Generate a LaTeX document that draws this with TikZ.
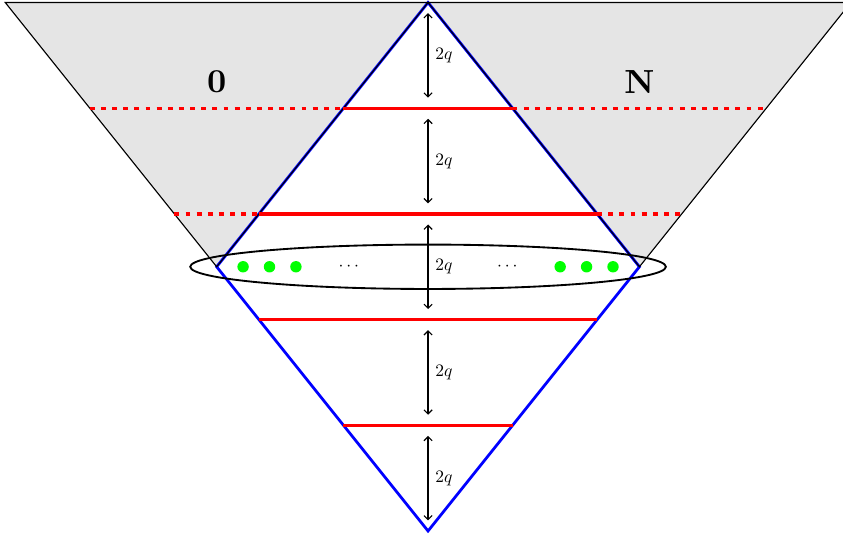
\documentclass[tikz,border=0pt]{standalone}
\usetikzlibrary{arrows.meta,shapes.geometric}
\begin{document}
\begin{tikzpicture}[
  thinline/.style={line width=0.3pt,black},
  redsolid/.style={red,line width=0.85pt},
  reddash/.style={red,line width=0.85pt,dash pattern=on 1.3pt off 1.7pt},
  bluedge/.style={blue,line width=0.75pt,line join=miter},
  gaparrow/.style={line width=0.3pt,{Straight Barb[length=1.1pt,width=2.2pt]}-{Straight Barb[length=1.1pt,width=2.2pt]}},
  glab/.style={anchor=west,inner sep=0pt,font=\fontsize{10}{12}\selectfont,scale=0.47,transform shape},
  gdot/.style={circle,fill=green,inner sep=0pt,minimum size=0.108cm},
  bigl/.style={inner sep=0pt,font=\fontsize{10}{12}\selectfont\bfseries,scale=0.9,transform shape},
  cdotl/.style={inner sep=0pt,font=\fontsize{10}{12}\selectfont,scale=0.47,transform shape},
  ring/.style={draw=black,line width=0.5pt}
]
\useasboundingbox (-4.05,-0.057) rectangle (3.926,5.024);
\clip (-4.05,-0.057) rectangle (3.926,5.024);
% corners
\coordinate (T) at (0,5);
\coordinate (B) at (0,0);
\coordinate (L) at (-2,2.5);
\coordinate (R) at (2,2.5);
\coordinate (TL) at (-4,5);
\coordinate (TR) at (4,5);
% gray triangles
\fill[gray!20] (TL) -- (T) -- (L) -- cycle;
\fill[gray!20] (T) -- (TR) -- (R) -- cycle;
% diamond
\draw[bluedge] (T) -- (L) -- (B) -- (R) -- cycle;
\draw[thinline] (TL) -- (T) -- (L) -- cycle;
\draw[thinline] (T) -- (TR) -- (R) -- cycle;
% level coordinates
\coordinate (a1) at (-3.2,4); \coordinate (a2) at (-0.8,4);
\coordinate (a3) at (0.8,4);  \coordinate (a4) at (3.2,4);
\coordinate (b1) at (-2.4,3); \coordinate (b2) at (-1.6,3);
\coordinate (b3) at (1.6,3);  \coordinate (b4) at (2.4,3);
\coordinate (c1) at (-1.6,2); \coordinate (c2) at (1.6,2);
\coordinate (d1) at (-0.8,1); \coordinate (d2) at (0.8,1);
% red lines
\draw[reddash] (a1) -- (a2);
\draw[reddash] (a3) -- (a4);
\draw[reddash] (b1) -- (b2);
\draw[reddash] (b3) -- (b4);
\draw[redsolid] (a2) -- (a3);
\draw[redsolid] (b2) -- (b3);
\draw[redsolid] (c1) -- (c2);
\draw[redsolid] (d1) -- (d2);
% ellipse
\node[ring,ellipse,minimum width=4.5cm,minimum height=0.42cm,inner sep=0pt] (ell) at (0,2.5) {};
% green dots
\node[gdot] (g1) at (-1.75,2.5) {};
\node[gdot] (g2) at (-1.5,2.5) {};
\node[gdot] (g3) at (-1.25,2.5) {};
\node[gdot] (g4) at (1.25,2.5) {};
\node[gdot] (g5) at (1.5,2.5) {};
\node[gdot] (g6) at (1.75,2.5) {};
\node[cdotl] (dl) at (-0.75,2.5) {$\cdots$};
\node[cdotl] (dr) at (0.75,2.5) {$\cdots$};
% labels
\node[bigl] (zero) at (-2,4.25) {0};
\node[bigl] (nn) at (2,4.25) {N};
% gap arrows
\foreach \i in {0,...,4}{
  \coordinate (lo\i) at (0,\i+0.1);
  \coordinate (hi\i) at (0,\i+0.9);
  \draw[gaparrow] (lo\i) -- (hi\i);
  \node[glab] (q\i) at (0.065,\i+0.5) {$2q$};
}
\end{tikzpicture}
\end{document}
